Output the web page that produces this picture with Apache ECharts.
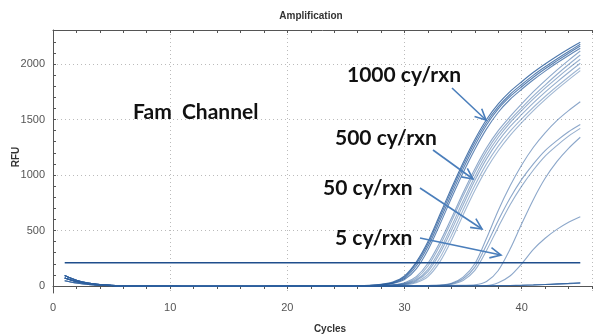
<!DOCTYPE html>
<html>
<head>
<meta charset="utf-8">
<script src="https://cdn.jsdelivr.net/npm/echarts@6/dist/echarts.min.js"></script>
<style>
  html, body { margin: 0; padding: 0; background: #fff; }
  #Amp { width: 598px; height: 335px; }
</style>
</head>
<body>
<div id="Amp"></div>
<script>
// Cycles 1..45
var cycles = [1, 2, 3, 4, 5, 6, 7, 8, 9, 10, 11, 12, 13, 14, 15, 16, 17, 18, 19, 20,
  21, 22, 23, 24, 25, 26, 27, 28, 29, 30, 31, 32, 33, 34, 35, 36, 37, 38, 39, 40,
  41, 42, 43, 44, 45];
var thresholdRFU = 210;

// Early baselines, cycles 1..25
var baseHi = [95, 52, 27, 13, 6, 3, 1, 0, -1, -1, -2, -2, -2, -3, -3, -2, -2, -2, -1, -1, -1, 0, 0, 0, 1];
var baseMid = [72, 40, 21, 10, 4, 1, 0, -1, -2, -2, -3, -3, -3, -2, -2, -2, -3, -3, -2, -2, -1, -1, -1, 0, 0];
var baseLo = [48, 28, 15, 7, 3, 0, -1, -2, -2, -3, -3, -3, -2, -2, -3, -3, -3, -2, -2, -2, -2, -1, -1, -1, 0];

// Rising part, cycles 26..45
// 1000 cy/rxn
var a1 = [2, 6, 15, 35, 90, 215, 400, 640, 880, 1110, 1320, 1500, 1640, 1750, 1840, 1925, 2000, 2070, 2135, 2195];
var a2 = [2, 5, 13, 30, 80, 200, 380, 615, 855, 1085, 1295, 1475, 1615, 1725, 1815, 1900, 1975, 2045, 2112, 2177];
var a3 = [1, 4, 11, 26, 70, 180, 355, 585, 825, 1055, 1265, 1450, 1595, 1705, 1795, 1880, 1957, 2028, 2097, 2162];
var a4 = [1, 3, 9, 22, 58, 155, 325, 550, 790, 1020, 1230, 1415, 1565, 1680, 1772, 1858, 1936, 2008, 2076, 2141];
// 500 cy/rxn
var b1 = [0, 2, 5, 12, 30, 85, 205, 390, 610, 840, 1055, 1245, 1400, 1525, 1640, 1750, 1850, 1945, 2033, 2117];
var b2 = [0, 1, 4, 10, 25, 70, 180, 360, 580, 810, 1025, 1215, 1370, 1495, 1605, 1712, 1810, 1905, 1995, 2081];
var b3 = [0, 1, 3, 8, 20, 56, 150, 320, 535, 765, 985, 1180, 1340, 1470, 1580, 1685, 1782, 1873, 1960, 2042];
var b4 = [0, 1, 3, 7, 17, 48, 130, 290, 500, 730, 950, 1145, 1305, 1435, 1545, 1650, 1747, 1837, 1923, 2006];
var b5 = [0, 0, 2, 5, 13, 38, 105, 250, 455, 685, 905, 1100, 1260, 1392, 1505, 1610, 1707, 1797, 1883, 1966];
var b6 = [0, 0, 2, 4, 10, 30, 85, 215, 410, 640, 860, 1055, 1218, 1355, 1472, 1580, 1679, 1771, 1857, 1940];
// 50 cy/rxn
var c1 = [0, 0, 0, 1, 2, 3, 5, 8, 25, 80, 200, 430, 680, 900, 1090, 1250, 1380, 1490, 1580, 1660];
var c2 = [0, 0, 0, 0, 1, 2, 4, 6, 20, 65, 170, 370, 590, 790, 960, 1100, 1220, 1310, 1390, 1455];
var c3 = [0, 0, 0, 0, 1, 2, 3, 5, 15, 50, 140, 320, 530, 730, 900, 1045, 1170, 1265, 1350, 1420];
// 5 cy/rxn
var d1 = [0, 0, 0, 0, 0, 1, 2, 3, 5, 6, 10, 40, 140, 330, 560, 780, 970, 1120, 1240, 1340];
var e1 = [0, 0, 0, 0, 0, 0, 1, 2, 3, 4, 5, 5, 30, 90, 200, 330, 430, 510, 575, 624];
// no template
var f1 = [0, 0, 1, 0, 0, 1, 1, 0, 1, 2, 2, 3, 4, 5, 7, 10, 14, 19, 24, 30];
var f2 = [0, 0, 0, 0, -1, 0, 0, 1, 0, 1, 1, 2, 3, 4, 6, 9, 13, 17, 21, 26];

var yTicks = [0, 100, 200, 300, 400, 500, 600, 700, 800, 900, 1000, 1100, 1200, 1300, 1400,
  1500, 1600, 1700, 1800, 1900, 2000, 2100, 2200, 2300];
var yLabels = [0, 500, 1000, 1500, 2000];

var curves = [
  [baseHi, a1, 0.85], [baseHi, a2, 0.8], [baseMid, a3, 0.8], [baseMid, a4, 0.75],
  [baseHi, b1, 0.55], [baseMid, b2, 0.5], [baseMid, b3, 0.5], [baseLo, b4, 0.5], [baseLo, b5, 0.45], [baseMid, b6, 0.45],
  [baseHi, c1, 0.55], [baseMid, c2, 0.55], [baseLo, c3, 0.5],
  [baseMid, d1, 0.55], [baseLo, e1, 0.55],
  [baseHi, f1, 0.8], [baseMid, f2, 0.8]
];

function toPoints(base, tail) {
  var vals = base.concat(tail);
  return cycles.map(function (c, i) { return [c, vals[i]]; });
}

var series = curves.map(function (cv) {
  return {
    type: 'line',
    data: toPoints(cv[0], cv[1]),
    showSymbol: false,
    smooth: 0.3,
    silent: true,
    lineStyle: { color: '#2d5f9e', width: 1.1, opacity: cv[2] }
  };
});

series.push({
  type: 'line',
  data: [[cycles[0], thresholdRFU], [cycles[cycles.length - 1], thresholdRFU]],
  showSymbol: false,
  silent: true,
  lineStyle: { color: '#1f4e8c', width: 1.6 }
});

var axisFont = 'Liberation Sans Narrow, Liberation Sans, Arial, sans-serif';
var noteFont = 'bold 21px Lato, Open Sans, sans-serif';

function arrow(x1, y1, x2, y2) {
  var ang = Math.atan2(y2 - y1, x2 - x1);
  var L = 12, spread = 0.45;
  var p1 = [x2 - L * Math.cos(ang - spread), y2 - L * Math.sin(ang - spread)];
  var p2 = [x2 - L * Math.cos(ang + spread), y2 - L * Math.sin(ang + spread)];
  var st = { stroke: '#4a7ebb', lineWidth: 1.6, fill: null };
  return [
    { type: 'line', shape: { x1: x1, y1: y1, x2: x2, y2: y2 }, style: st, z: 100 },
    { type: 'polyline', shape: { points: [p1, [x2, y2], p2] }, style: st, z: 100 }
  ];
}

function note(txt, x, y) {
  return { type: 'text', x: x, y: y, z: 100,
    style: { text: txt, font: noteFont, fill: '#111', verticalAlign: 'middle' } };
}

var graphics = [
  { type: 'text', x: 311, y: 16, style: { text: 'Amplification', font: 'bold 10px ' + axisFont, fill: '#333', align: 'center', verticalAlign: 'middle' } },
  { type: 'text', x: 16, y: 157, rotation: Math.PI / 2, style: { text: 'RFU', font: 'bold 10px ' + axisFont, fill: '#333', align: 'center', verticalAlign: 'middle' } },
  { type: 'text', x: 330, y: 329, style: { text: 'Cycles', font: 'bold 10px ' + axisFont, fill: '#333', align: 'center', verticalAlign: 'middle' } },
  note('Fam  Channel', 133, 112),
  note('1000 cy/rxn', 347, 75),
  note('500 cy/rxn', 335, 138),
  note('50 cy/rxn', 323, 188),
  note('5 cy/rxn', 335, 238)
].concat(arrow(452, 88, 486, 120), arrow(433, 150, 473, 179), arrow(420, 188, 482, 229), arrow(420, 238, 501, 255));

var gridDash = { color: '#bbb', type: [1, 3] };

var option = {
  animation: false,
  backgroundColor: '#fff',
  grid: { left: 53, right: 6, top: 30, bottom: 42 },
  xAxis: [{
    type: 'value', min: 0, max: 46, interval: 2,
    axisLine: { lineStyle: { color: '#555', width: 1 } },
    axisTick: { inside: false, length: 3, lineStyle: { color: '#555' } },
    axisLabel: { color: '#555', fontFamily: axisFont, fontSize: 11, margin: 9,
      formatter: function (v) { return v % 10 === 0 ? String(v) : ''; } },
    splitLine: { show: false }
  }, {
    type: 'value', position: 'top', min: 0, max: 46, interval: 2,
    axisLine: { show: true, onZero: false, lineStyle: { color: '#555', width: 1 } },
    axisTick: { inside: true, length: 3, lineStyle: { color: '#555' } },
    axisLabel: { show: false },
    splitLine: { show: false }
  }, {
    // gridlines every 10 cycles
    type: 'value', position: 'bottom', min: 0, max: 46, interval: 10,
    axisLine: { show: false }, axisTick: { show: false }, axisLabel: { show: false },
    splitLine: { show: true, lineStyle: gridDash }
  }],
  yAxis: [{
    type: 'value', min: -63, max: 2306,
    axisLine: { show: true, onZero: false, lineStyle: { color: '#555', width: 1 } },
    axisTick: { show: true, inside: true, length: 3, customValues: yTicks, lineStyle: { color: '#555' } },
    axisLabel: { color: '#555', fontFamily: axisFont, fontSize: 11, margin: 8, customValues: yLabels,
      formatter: function (v) { return String(v); } },
    splitLine: { show: false }
  }, {
    type: 'value', min: -63, max: 2306, position: 'left',
    axisLine: { show: false },
    axisTick: { show: false, customValues: yLabels },
    axisLabel: { show: false },
    splitLine: { show: true, lineStyle: gridDash }
  }],
  series: series,
  graphic: graphics
};

var ampChart = echarts.init(document.getElementById('Amp'));
ampChart.setOption(option);
</script>
</body>
</html>
